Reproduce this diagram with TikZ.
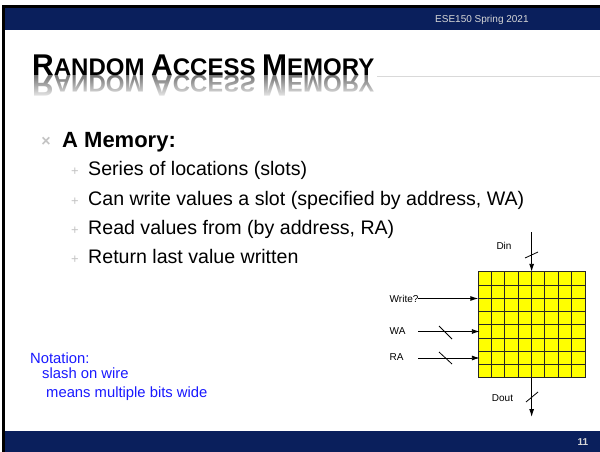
\documentclass[tikz,border=0pt]{standalone}
\usepackage{fontspec}
\setmainfont{Liberation Sans}
\usetikzlibrary{arrows.meta,fadings}
\definecolor{navy}{RGB}{10,31,92}
\definecolor{hdrtext}{RGB}{215,215,215}
\definecolor{bulgray}{RGB}{195,195,195}
\definecolor{noteblue}{RGB}{25,25,255}
\definecolor{memyellow}{RGB}{255,255,0}
\newcommand\titletext{\fontsize{30}{30}\selectfont R\fontsize{24}{24}\selectfont ANDOM \fontsize{30}{30}\selectfont A\fontsize{24}{24}\selectfont CCESS \fontsize{30}{30}\selectfont M\fontsize{24}{24}\selectfont EMORY}
\begin{document}
\begin{tikzpicture}[x=1pt,y=-1pt,
  lbl/.style={font=\fontsize{10}{12}\selectfont, inner sep=0pt},
  body/.style={font=\fontsize{19.6}{24}\selectfont, anchor=base west, inner sep=0pt},
  subbul/.style={text=bulgray, font=\fontsize{13}{14}\selectfont, anchor=base, inner sep=0pt},
  note/.style={text=noteblue, font=\fontsize{14.8}{17}\selectfont, anchor=base west, inner sep=0pt},
  wire/.style={line width=0.9pt, -{Latex[length=8pt,width=5pt]}},
  slashln/.style={line width=0.8pt},
  gridln/.style={line width=1pt, black!85}]
\useasboundingbox (0,0) rectangle (600,452);
\fill[white] (0,0) rectangle (600,452);
% frame and bars
\fill[black] (1.7,5) rectangle (600,8);
\fill[black] (1.7,5) rectangle (5,452);
\fill[navy] (5,8) rectangle (600,30.5);
\fill[navy] (5,431) rectangle (600,452);
\node[text=hdrtext, font=\fontsize{10}{12}\selectfont, anchor=west, inner sep=0pt] (hdr) at (435,20) {ESE150 Spring 2021};
\node[text=hdrtext, font=\bfseries\fontsize{10}{12}\selectfont, inner sep=0pt] (pg) at (583,442) {11};
% title with reflection
\node[anchor=base west, inner sep=0pt, text=black!55] (refl) at (32,75) {\scalebox{1}[-1]{\bfseries\titletext}};
\fill[white, path fading=north] (30,75.3) rectangle (385,100);
\node[anchor=base west, inner sep=0pt] (title) at (32,75) {\bfseries\titletext};
\draw[gray!30, line width=1pt] (377,76.5) -- (600,76.5);
% bullets
\node[text=bulgray, font=\bfseries\fontsize{16}{16}\selectfont, inner sep=0pt] (b0) at (46,141.5) {×};
\node[body, font=\bfseries\fontsize{22}{26}\selectfont] (t0) at (62,147) {A Memory:};
\node[subbul] (b1) at (75,175) {+};
\node[body] (t1) at (88,175) {Series of locations (slots)};
\node[subbul] (b2) at (75,205) {+};
\node[body] (t2) at (88,205) {Can write values a slot (specified by address, WA)};
\node[subbul] (b3) at (75,234) {+};
\node[body] (t3) at (88,234) {Read values from (by address, RA)};
\node[subbul] (b4) at (75,263) {+};
\node[body] (t4) at (88,263) {Return last value written};
% memory grid
\node[draw=black!85, fill=memyellow, line width=1pt, minimum width=106.7pt, minimum height=106pt, inner sep=0pt, outer sep=0pt] (mem) at (531.65,324.8) {};
\foreach \i in {1,...,7} {
  \draw[gridln] ({478.3+\i*13.3375},271.8) -- ({478.3+\i*13.3375},377.8);
  \draw[gridln] (478.3,{271.8+\i*13.25}) -- (585,{271.8+\i*13.25});
}
% Din
\coordinate (dintop) at (531.65,232);
\draw[wire] (dintop) -- (mem.north);
\draw[slashln] (525,258) -- (538,252);
\node[lbl] (din) at (504,246) {Din};
% Write?
\coordinate (wrstart) at (418,298.5);
\draw[wire] (wrstart) -- (wrstart -| mem.west);
\node[lbl, anchor=west] (wrlbl) at (389.5,299) {Write?};
% WA
\coordinate (wastart) at (418,331.5);
\draw[wire] (wastart) -- ([xshift=1.5pt]wastart -| mem.west);
\draw[slashln] (439,326) -- (452,339);
\node[lbl, anchor=west] (walbl) at (389.5,331) {WA};
% RA
\coordinate (rastart) at (418,358);
\draw[wire] (rastart) -- ([xshift=1.5pt]rastart -| mem.west);
\draw[slashln] (439,352) -- (452,364);
\node[lbl, anchor=west] (ralbl) at (389.5,357) {RA};
% Dout
\coordinate (doutend) at (531.65,417);
\draw[wire] (mem.south) -- (doutend);
\draw[slashln] (526,402) -- (538,392);
\node[lbl] (doutlbl) at (502.5,398) {Dout};
% notation
\node[note] (n1) at (30,363) {Notation:};
\node[note] (n2) at (42,378.5) {slash on wire};
\node[note] (n3) at (46,397) {means multiple bits wide};
\end{tikzpicture}
\end{document}
